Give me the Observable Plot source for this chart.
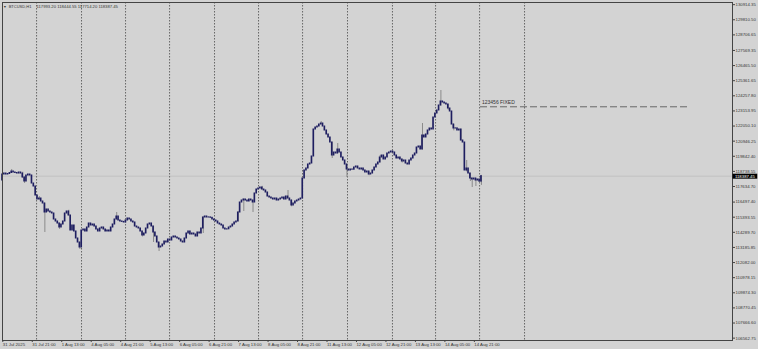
<!DOCTYPE html>
<html><head><meta charset="utf-8">
<script src="https://cdn.jsdelivr.net/npm/d3@7"></script>
<script src="https://cdn.jsdelivr.net/npm/@observablehq/plot@0.6"></script>
<style>html,body{margin:0;padding:0;background:#d3d3d3;overflow:hidden}</style>
</head><body><div id="chart"></div>
<script>
// ---- data (BTCUSD H1, hourly bars, index 0 = 31 Jul 2025 05:00) ----
const symbol = "BTCUSD,H1";
const firstOpen = 118073;
const close = [
118511,118584,118511,118548,118621,118731,118658,118621,118584,118658,
118584,118292,118000,118438,118511,118438,117854,117635,116978,116686,
116759,116540,116394,115737,115956,115810,115737,115664,115226,115080,
114934,114642,114861,115080,115664,115810,115518,114423,114788,114350,
113839,113546,113181,114423,114496,114350,114642,114934,114788,114861,
114715,114496,114350,114569,114642,114496,114350,114423,114350,114642,
114861,115226,115445,115153,115080,115050,115007,115153,115299,115226,
115080,115007,114715,114642,114569,114350,114058,114204,114569,114861,
114934,114715,114277,113985,113546,113181,113254,113400,113619,113546,
113766,113692,113912,113985,113912,113839,113766,113619,113546,113839,
114204,114350,114131,114204,114131,113985,114277,114204,114569,115372,
115445,115372,115380,115350,115226,115153,115080,114934,114861,114788,
114569,114496,114510,114642,114715,114861,115007,115080,115737,116467,
116613,116686,116613,116540,116686,116613,116467,117124,117416,117489,
117562,117416,117343,117197,116905,116832,116759,116686,116759,116613,
116686,116759,116832,116686,116905,116759,116613,116248,116394,116540,
116613,116686,116759,118219,118804,118950,119242,119315,119826,121798,
121944,122016,122162,122235,122016,121725,121433,121214,120848,119899,
120118,120045,120337,120118,119753,119534,119242,118877,118804,118877,
118860,119023,119096,118950,118877,118950,118804,118658,118731,118511,
118584,118804,119023,119242,119388,119753,119899,119607,119753,120045,
120118,120191,120118,119899,119680,119753,119607,119461,119534,119315,
119242,119534,119680,119899,120045,120483,120556,120337,121360,121214,
121433,121725,121871,121798,122674,122966,123185,123550,123842,123769,
123696,123623,123331,123112,122162,121871,121880,121725,121798,120994,
120848,118804,118950,118584,118219,118146,118219,118073,118146,117993.20,
118387.45];
// visible wicks
const wickBar  = [5,11,12,20,23,31,36,42,62,76,82,85,109,128,131,136,141,155,157,173,179,182,187,199,205,217,228,238,242,245,249,252,254,255,257,259,260];
const wickHigh = [118877,118680,118320,116900,116420,114950,115900,113560,115737,114360,114730,113560,115420,115800,116720,116640,117650,117343,116640,122381,120870,120775,119260,118750,119900,119630,122235,124645,123640,122180,121820,119534,118600,118240,118240,118160,118444.55];
const wickLow  = [118600,118250,117854,116650,114277,114500,115480,113035,115200,113950,113546,112890,114204,115050,115810,115737,117380,116740,116150,122150,119680,120020,118292,118420,119360,119350,120300,123500,123200,121700,120950,118700,118000,117562,117635,117900,117714.20];
// axis ticks
const priceTicks = [130914.35,129810.50,128706.65,127569.35,126465.50,125361.65,124257.80,123153.95,122050.10,120946.25,119842.40,118738.55,117634.70,116497.40,115393.55,114289.70,113185.85,112082.00,110978.15,109874.30,108770.45,107666.60,106562.75];
const labelBars = [0,16,32,48,64,80,96,112,128,144,160,176,192,208,224,240,256];
const xLabels = ["31 Jul 2025","31 Jul 21:00","1 Aug 13:00","4 Aug 05:00","4 Aug 21:00","5 Aug 13:00","6 Aug 05:00","6 Aug 21:00","7 Aug 13:00","8 Aug 05:00","8 Aug 21:00","11 Aug 13:00","12 Aug 05:00","12 Aug 21:00","13 Aug 13:00","14 Aug 05:00","14 Aug 21:00"];
const gridBars = [18.5,42.9,66.8,90.7,115.1,139.0,162.9,187.3,211.7,235.1,259.0,283.4];
// horizontal object
const fixedLevel = 123456;
const fixedLabel = "123456 FIXED";
const fixedFrom = 259.5, fixedTo = 372.4;

// ---- build tables ----
const bars = close.map((c, i) => ({i, open: i === 0 ? firstOpen : close[i - 1], close: c}));
const wicks = wickBar.map((b, k) => ({i: b, high: wickHigh[k], low: wickLow[k]}));
const last = bars[bars.length - 1];
const bid = last.close;
const lastHigh = wickHigh[wickHigh.length - 1], lastLow = wickLow[wickLow.length - 1];
const ohlcText = [last.open, lastHigh, lastLow, last.close].map(v => v.toFixed(2)).join(" ");

const FS = 4.3;
const chart = Plot.plot({
  width: 758, height: 349,
  marginLeft: 2, marginRight: 26, marginTop: 2, marginBottom: 9,
  style: {background: "#d3d3d3", fontFamily: "'Liberation Sans', Arial, sans-serif", color: "#333", overflow: "visible"},
  x: {domain: [0, 396.3], axis: null},
  y: {domain: [106390, 131071], axis: null},
  marks: [
    Plot.ruleY([bid], {stroke: "#c2c2c2"}),
    Plot.ruleX(gridBars, {stroke: "#666", strokeDasharray: "1.5,1.5"}),
    Plot.ruleX(wicks, {x: "i", y1: "low", y2: "high", stroke: "#8a8a8a"}),
    Plot.rect(bars, {x1: d => d.i - 0.45, x2: d => d.i + 0.45, y1: "open", y2: "close", fill: "#1e1e60", insetTop: -0.5, insetBottom: -0.5}),
    Plot.ruleY([fixedLevel], {x1: () => fixedFrom, x2: () => fixedTo, stroke: "#666", strokeDasharray: "7,3"}),
    Plot.text([fixedLabel], {x: () => fixedFrom + 0.8, y: () => fixedLevel, text: d => d, textAnchor: "start", lineAnchor: "bottom", dy: -3, fontSize: 5, fill: "#333"}),
    Plot.frame({stroke: "#444"}),
    Plot.axisY(priceTicks, {anchor: "right", tickSize: 2, tickPadding: 1, tickFormat: d => d.toFixed(2), fontSize: FS, label: null, stroke: "#444"}),
    Plot.axisX(labelBars, {anchor: "bottom", tickSize: 2, tickPadding: 0.3, tickFormat: d => xLabels[labelBars.indexOf(d)], textAnchor: "start", dx: 0.3, fontSize: FS, label: null, stroke: "#444"}),
    Plot.ruleY([bid], {x1: () => 396.6, x2: () => 410, stroke: "#000", strokeWidth: 5}),
    Plot.text([bid], {x: () => 397.6, y: d => d, text: d => d.toFixed(2), fill: "#fff", textAnchor: "start", fontSize: FS}),
    Plot.text(["▼"], {frameAnchor: "top-left", dx: 0.8, dy: 2.8, lineAnchor: "top", textAnchor: "start", fontSize: 3.4, fill: "#333"}),
    Plot.text([symbol], {frameAnchor: "top-left", dx: 6.2, dy: 2.6, lineAnchor: "top", textAnchor: "start", fontSize: 4.0, fill: "#333"}),
    Plot.text([ohlcText], {frameAnchor: "top-left", dx: 34, dy: 2.6, lineAnchor: "top", textAnchor: "start", fontSize: 4.2, fill: "#333"})
  ]
});
document.getElementById("chart").appendChild(chart);
</script>
</body></html>
